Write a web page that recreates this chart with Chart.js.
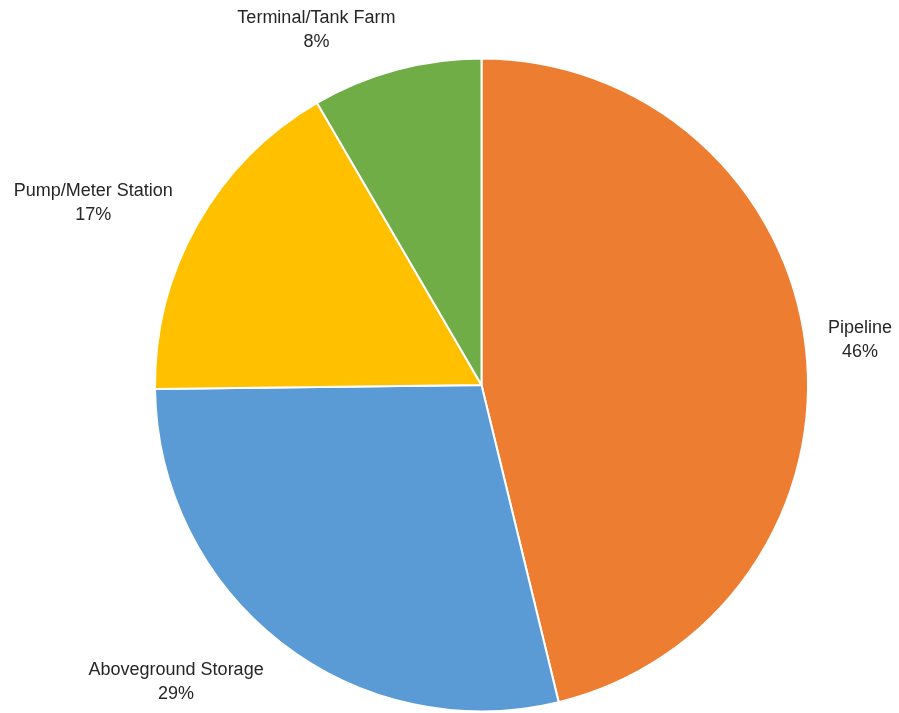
<!DOCTYPE html>
<html>
<head>
<meta charset="utf-8">
<script src="https://cdn.jsdelivr.net/npm/chart.js@4"></script>
<style>
  html, body { margin: 0; padding: 0; background: #fff; }
  #wrap { width: 899px; height: 713px; }
</style>
</head>
<body>
<div id="wrap"><canvas id="pieChart" width="899" height="713"></canvas></div>
<script>
// incident share by location
const categories = ["Pipeline", "Aboveground Storage", "Pump/Meter Station", "Terminal/Tank Farm"];
const shares = [46.2, 28.6, 16.8, 8.4];
const sliceColors = ["#ED7D31", "#5B9BD5", "#FFC000", "#70AD47"];

// small angle nudges (degrees) to mimic how the office tool spreads its outside labels
const labelNudge = [0, 8, -4.4, -9.2];

const outsideLabels = {
    id: "outsideLabels",
    afterDraw(chart) {
        const ctx = chart.ctx;
        const meta = chart.getDatasetMeta(0);
        const data = chart.data.datasets[0].data;
        const total = data.reduce((a, b) => a + b, 0);
        const lineH = 24;
        ctx.save();
        ctx.font = "18px 'Liberation Sans', Arial, sans-serif";
        ctx.fillStyle = "#262626";
        ctx.textAlign = "center";
        ctx.textBaseline = "middle";
        meta.data.forEach((arc, i) => {
            const pct = Math.round(data[i] / total * 100) + "%";
            const lines = [chart.data.labels[i], pct];
            const halfW = Math.max(...lines.map(t => ctx.measureText(t).width)) / 2;
            const halfH = lineH;
            // angle measured clockwise from the top
            const mid = (arc.startAngle + arc.endAngle) / 2 + Math.PI / 2 + labelNudge[i] * Math.PI / 180;
            const s = Math.sin(mid), c = Math.cos(mid);
            const dist = arc.outerRadius + 20 + Math.abs(halfW * s) + Math.abs(halfH * c);
            let x = arc.x + dist * s;
            let y = arc.y - dist * c;
            x = Math.min(Math.max(x, halfW + 6), chart.width - halfW - 6);
            y = Math.min(Math.max(y, halfH + 6), chart.height - halfH - 6);
            ctx.fillText(lines[0], x, y - lineH / 2);
            ctx.fillText(lines[1], x, y + lineH / 2);
        });
        ctx.restore();
    }
};

new Chart(document.getElementById("pieChart").getContext("2d"), {
    type: "pie",
    data: {
        labels: categories,
        datasets: [{
            data: shares,
            backgroundColor: sliceColors,
            borderColor: "#ffffff",
            borderWidth: 2
        }]
    },
    options: {
        responsive: false,
        animation: false,
        layout: { padding: { top: 57, bottom: 0, left: 154, right: 90 } },
        plugins: {
            legend: { display: false },
            tooltip: { enabled: false }
        }
    },
    plugins: [outsideLabels]
});
</script>
</body>
</html>
